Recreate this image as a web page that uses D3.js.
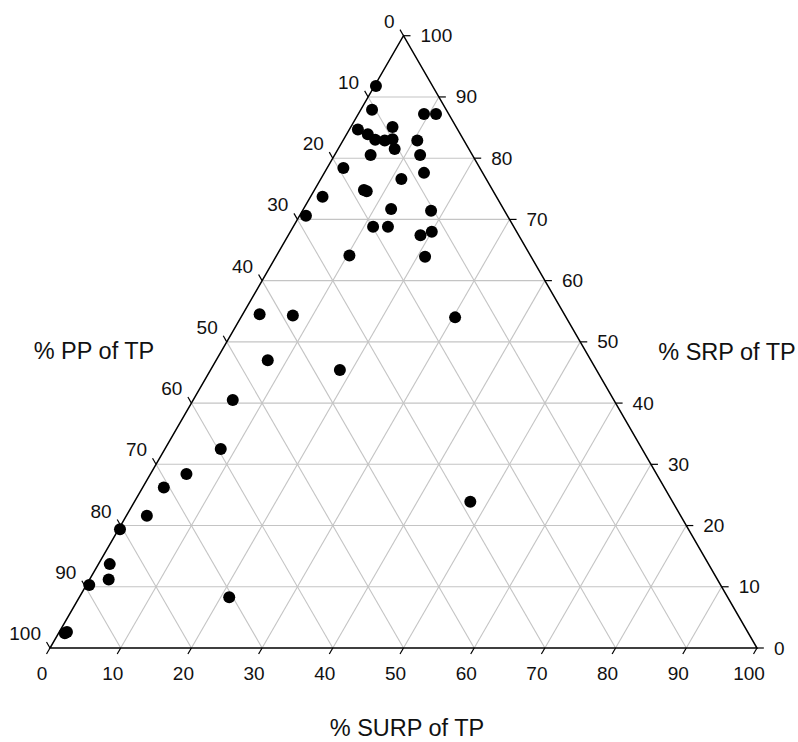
<!DOCTYPE html>
<html>
<head>
<meta charset="utf-8">
<script src="https://cdn.jsdelivr.net/npm/d3@7"></script>
<style>
  html, body { margin: 0; padding: 0; background: #fff; }
  svg { display: block; font-family: "Liberation Sans", Arial, sans-serif; }
</style>
</head>
<body>
<svg id="chart" width="798" height="742"></svg>
<script>
// ---- data: % SURP of TP and % SRP of TP (PP = 100 - SURP - SRP) ----
const surp = [0.2, 1.6, 9.3, 11.0, 5.9, 1.2, 3.0, 4.5, 5.9, 6.9, 8.0, 10.5, 5.1, 12.1,
              2.3, 14.1, 11.4, 7.0, 7.5, 1.7, 0.9, 12.4, 18.2, 11.3, 13.4, 18.7, 20.0,
              10.3, 21.1, 2.4, 7.2, 30.3, 7.3, 18.3, 5.6, 7.9, 5.1, 3.0, 2.9, 0.2,
              1.6, 2.7, 0.4, 21.2, 0.9, 1.1, 47.5];
const srp  = [91.8, 87.9, 87.2, 87.2, 85.1, 84.7, 83.9, 83.0, 82.9, 83.1, 81.5, 82.9, 80.5, 80.5,
              78.4, 77.6, 76.6, 74.8, 74.6, 73.7, 70.6, 71.7, 71.4, 68.8, 68.8, 67.4, 68.0,
              64.1, 63.9, 54.5, 54.3, 54.0, 47.0, 45.4, 40.5, 32.5, 28.4, 26.2, 21.6, 19.4,
              13.7, 11.2, 10.3, 8.3, 2.4, 2.6, 23.9];
const pp = surp.map((s, i) => 100 - s - srp[i]);
const ticks = [0, 10, 20, 30, 40, 50, 60, 70, 80, 90, 100];
const titles = { left: "% PP of TP", right: "% SRP of TP", bottom: "% SURP of TP" };

// ---- layout ----
const x0 = 50, y0 = 648, W = 707, H = W * Math.sqrt(3) / 2;
const sx = d3.scaleLinear().domain([0, 100]).range([x0, x0 + W]);
const sy = d3.scaleLinear().domain([0, 100]).range([y0, y0 - H]);
// position from SURP (s) and SRP (r)
const P = (s, r) => [sx(s + r / 2), sy(r)];

const svg = d3.select("#chart");
const grid = svg.append("g").attr("stroke", "#c4c4c4").attr("stroke-width", 1.1).attr("fill", "none");
const inner = ticks.slice(1, -1);
inner.forEach(v => {
  let a = P(0, v), b = P(100 - v, v);
  grid.append("line").attr("x1", a[0]).attr("y1", a[1]).attr("x2", b[0]).attr("y2", b[1]);
  a = P(v, 0); b = P(v, 100 - v);
  grid.append("line").attr("x1", a[0]).attr("y1", a[1]).attr("x2", b[0]).attr("y2", b[1]);
  a = P(0, 100 - v); b = P(100 - v, 0);
  grid.append("line").attr("x1", a[0]).attr("y1", a[1]).attr("x2", b[0]).attr("y2", b[1]);
});

// triangle
const A = P(0, 0), B = P(100, 0), C = P(0, 100);
svg.append("path")
  .attr("d", `M${A[0]},${A[1]}L${B[0]},${B[1]}L${C[0]},${C[1]}Z`)
  .attr("fill", "none").attr("stroke", "#000").attr("stroke-width", 1.5)
  .attr("stroke-linejoin", "miter");

const tl = 7, c60 = 0.5, s60 = Math.sqrt(3) / 2;
const tg = svg.append("g").attr("stroke", "#000").attr("stroke-width", 1.2);
const lg = svg.append("g").attr("font-size", 19).attr("fill", "#111");
ticks.forEach(v => {
  let p = P(v, 0);
  tg.append("line").attr("x1", p[0]).attr("y1", p[1]).attr("x2", p[0] - tl * c60).attr("y2", p[1] + tl * s60);
  lg.append("text").attr("x", p[0] - 8).attr("y", p[1] + 32).attr("text-anchor", "middle").text(v);
  p = P(0, 100 - v);
  tg.append("line").attr("x1", p[0]).attr("y1", p[1]).attr("x2", p[0] - tl * c60).attr("y2", p[1] - tl * s60);
  lg.append("text").attr("x", p[0] - 9).attr("y", p[1] - 8).attr("text-anchor", "end").text(v);
  p = P(100 - v, v);
  tg.append("line").attr("x1", p[0]).attr("y1", p[1]).attr("x2", p[0] + tl).attr("y2", p[1]);
  lg.append("text").attr("x", p[0] + 17).attr("y", p[1] + 6.5).attr("text-anchor", "start").text(v);
});

// titles
const tt = svg.append("g").attr("font-size", 23.5).attr("fill", "#111").attr("text-anchor", "middle");
tt.append("text").attr("x", 94).attr("y", 359).text(titles.left);
tt.append("text").attr("x", 727).attr("y", 360).text(titles.right);
tt.append("text").attr("x", 407).attr("y", 736).text(titles.bottom);

// points
svg.append("g").selectAll("circle")
  .data(surp.map((s, i) => ({ s, r: srp[i], p: pp[i] })))
  .join("circle")
  .attr("cx", d => P(d.s, d.r)[0])
  .attr("cy", d => P(d.s, d.r)[1])
  .attr("r", 6)
  .attr("fill", "#000");
</script>
</body>
</html>
